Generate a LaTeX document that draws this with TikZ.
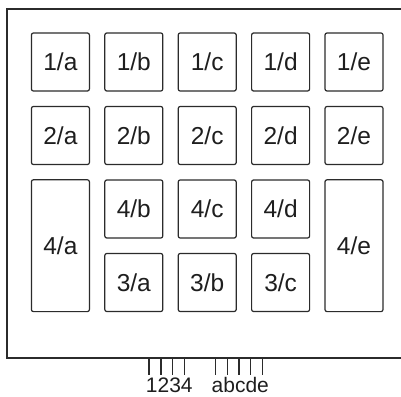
\documentclass[tikz,border=0pt]{standalone}
\usepackage{fontspec}
\setmainfont{Liberation Sans}
\usepackage{tikz}
\definecolor{line}{HTML}{2B2B2B}
\definecolor{ink}{HTML}{1E1E1E}
\tikzset{
  frame/.style={draw=line, line width=2pt},
  slot/.style={draw=line, line width=1.2pt, rounded corners=2pt, minimum width=58pt,
    minimum height=58pt, inner sep=0pt, text=ink, font=\fontsize{24.5}{28}\selectfont},
  tallslot/.style={slot, minimum height=131.8pt},
  pin/.style={draw=line, line width=1.5pt},
  pinlab/.style={text=ink, font=\fontsize{21}{24}\selectfont, inner sep=0pt, anchor=base}
}

\begin{document}
\begin{tikzpicture}[x=1pt,y=-1pt]
  \useasboundingbox (0,0) rectangle (401,396);
  \draw[frame] (7,9) rectangle (404,358);

  % row 1
  \node[slot] (s1a) at ( 60.4,62.0) {1/a};
  \node[slot] (s1b) at (133.8,62.0) {1/b};
  \node[slot] (s1c) at (207.2,62.0) {1/c};
  \node[slot] (s1d) at (280.6,62.0) {1/d};
  \node[slot] (s1e) at (354.0,62.0) {1/e};
  % row 2
  \node[slot] (s2a) at ( 60.4,135.5) {2/a};
  \node[slot] (s2b) at (133.8,135.5) {2/b};
  \node[slot] (s2c) at (207.2,135.5) {2/c};
  \node[slot] (s2d) at (280.6,135.5) {2/d};
  \node[slot] (s2e) at (354.0,135.5) {2/e};
  % rows 3 and 4
  \node[tallslot] (s4a) at ( 60.4,245.7) {4/a};
  \node[slot] (s4b) at (133.8,209.0) {4/b};
  \node[slot] (s4c) at (207.2,209.0) {4/c};
  \node[slot] (s4d) at (280.6,209.0) {4/d};
  \node[tallslot] (s4e) at (354.0,245.7) {4/e};
  \node[slot] (s3a) at (133.8,282.5) {3/a};
  \node[slot] (s3b) at (207.2,282.5) {3/b};
  \node[slot] (s3c) at (280.6,282.5) {3/c};

  % pins
  \draw[pin] (149.2,358) -- (149.2,375);
  \draw[pin] (160.9,358) -- (160.9,375);
  \draw[pin] (172.6,358) -- (172.6,375);
  \draw[pin] (184.3,358) -- (184.3,375);
  \draw[pin] (215.7,358) -- (215.7,375);
  \draw[pin] (227.4,358) -- (227.4,375);
  \draw[pin] (239.0,358) -- (239.0,375);
  \draw[pin] (250.7,358) -- (250.7,375);
  \draw[pin] (262.3,358) -- (262.3,375);
  \node[pinlab] (num) at (169.3,392.5) {1234};
  \node[pinlab] (let) at (240.3,392.5) {abcde};
\end{tikzpicture}
\end{document}
